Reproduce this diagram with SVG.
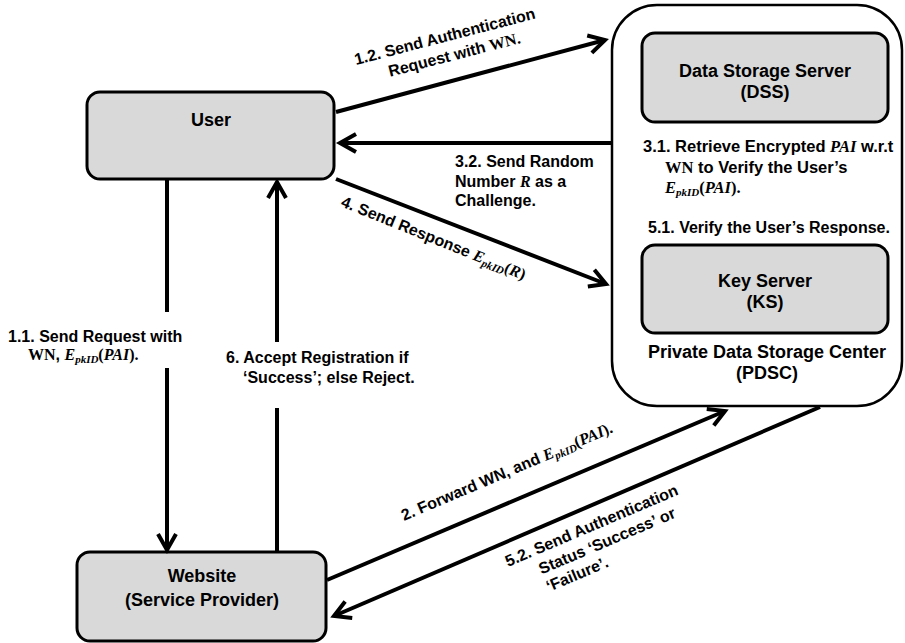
<svg xmlns="http://www.w3.org/2000/svg" width="905" height="643" viewBox="0 0 905 643">
<style>
.box{fill:#d9d9d9;stroke:#000;stroke-width:3}
.outer{fill:#fff;stroke:#000;stroke-width:2.5}
text{font-family:"Liberation Sans",Arial,sans-serif;font-weight:bold;fill:#000}
.title{font-size:18px;text-anchor:middle}
.lbl{font-size:16px}
.lbl2{font-size:16.5px}
.m{font-family:"Liberation Serif","Times New Roman",serif;font-style:italic;font-weight:bold}
.s{font-family:"Liberation Serif","Times New Roman",serif;font-weight:bold}
.sub{font-size:11px}
.conn path{stroke:#000;stroke-width:4;fill:none;marker-end:url(#ah)}
</style>
<defs>
<marker id="ah" markerUnits="userSpaceOnUse" markerWidth="40" markerHeight="40" viewBox="-20 -20 40 40" refX="0" refY="0" orient="auto" overflow="visible">
<path d="M-16,-9 L0,0 L-16,9" fill="none" stroke="#000" stroke-width="4" stroke-linejoin="miter"/>
</marker>
</defs>

<g id="pdsc">
<rect class="outer" x="612" y="5" width="290" height="401" rx="45" ry="45"/>
<text class="title" x="767" y="358">Private Data Storage Center</text>
<text class="title" x="767" y="379">(PDSC)</text>
</g>
<g id="dss">
<rect class="box" x="642" y="33" width="246" height="89" rx="13" ry="13"/>
<text class="title" x="765" y="77">Data Storage Server</text>
<text class="title" x="765" y="98">(DSS)</text>
</g>
<g id="ks">
<rect class="box" x="642" y="245" width="246" height="88" rx="13" ry="13"/>
<text class="title" x="765" y="287">Key Server</text>
<text class="title" x="765" y="308">(KS)</text>
</g>
<g id="user">
<rect class="box" x="87" y="92" width="247" height="87" rx="13" ry="13"/>
<text class="title" x="211" y="126">User</text>
</g>
<g id="website">
<rect class="box" x="77" y="552" width="249" height="89" rx="13" ry="13"/>
<text class="title" x="202" y="582">Website</text>
<text class="title" x="202" y="606">(Service Provider)</text>
</g>

<g id="connectors" class="conn">
<path d="M336,112 L605,40"/>
<path d="M612,143 L340,143"/>
<path d="M336,179 L606,284"/>
<path d="M167,179 V312 M167,368 V550"/>
<path d="M277,552 V408 M277,342 V182"/>
<path d="M327,580 L725,411"/>
<path d="M820,407 L334,616"/>
</g>

<g id="labels">
<g transform="translate(356,65) rotate(-14.5)">
<text class="lbl" x="0" y="0">1.2. Send Authentication</text>
<text class="lbl" x="30" y="20">Request with <tspan class="s">WN.</tspan></text>
</g>
<text class="lbl" x="455" y="167">3.2. Send Random</text>
<text class="lbl" x="455" y="187">Number <tspan class="m">R</tspan> as a</text>
<text class="lbl" x="455" y="206">Challenge.</text>
<text class="lbl2" x="643" y="152">3.1. Retrieve Encrypted <tspan class="m">PAI</tspan> w.r.t</text>
<text class="lbl2" x="665" y="173"><tspan class="s">WN</tspan> to Verify the User’s</text>
<text class="lbl2" x="665" y="193"><tspan class="m">E</tspan><tspan class="m sub" dy="3">pkID</tspan><tspan class="s" dy="-3">(</tspan><tspan class="m">PAI</tspan><tspan class="s">).</tspan></text>
<text class="lbl" x="648" y="233">5.1. Verify the User’s Response.</text>
<g transform="translate(340,206) rotate(22)">
<text class="lbl" x="0" y="0">4. Send Response <tspan class="m">E</tspan><tspan class="m sub" dy="3">pkID</tspan><tspan class="s" dy="-3">(</tspan><tspan class="m">R</tspan><tspan class="s">)</tspan></text>
</g>
<text class="lbl" x="8" y="342">1.1.  Send Request with</text>
<text class="lbl" x="28" y="360"><tspan class="s">WN</tspan>, <tspan class="m">E</tspan><tspan class="m sub" dy="3">pkID</tspan><tspan class="s" dy="-3">(</tspan><tspan class="m">PAI</tspan><tspan class="s">).</tspan></text>
<text class="lbl" x="226" y="363">6. Accept Registration if</text>
<text class="lbl" x="243" y="383">‘Success’; else Reject.</text>
<g transform="translate(404,521) rotate(-23)">
<text class="lbl" x="0" y="0">2. Forward WN, and <tspan class="m">E</tspan><tspan class="m sub" dy="3">pkID</tspan><tspan class="s" dy="-3">(</tspan><tspan class="m">PAI</tspan><tspan class="s">).</tspan></text>
</g>
<g transform="translate(508,567) rotate(-23)">
<text class="lbl" x="0" y="0">5.2. Send Authentication</text>
<text class="lbl" x="28" y="20">Status ‘Success’ or</text>
<text class="lbl" x="28" y="39">‘Failure’.</text>
</g>
</g>
</svg>
